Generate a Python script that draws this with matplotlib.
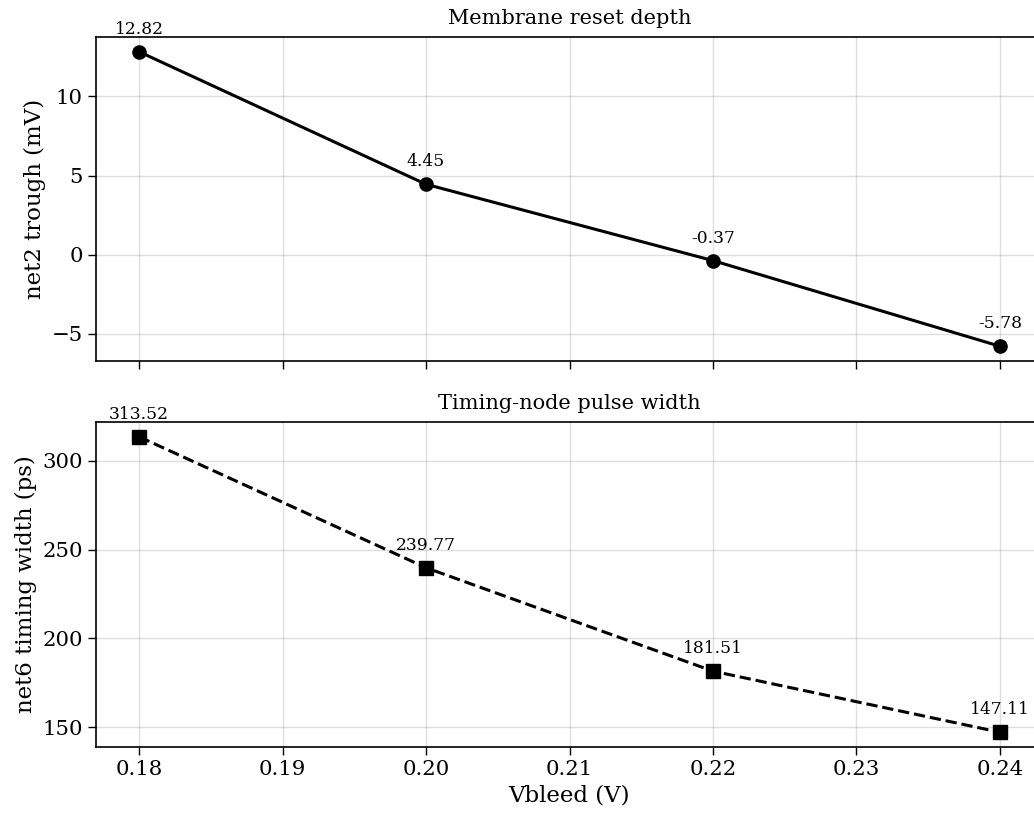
import matplotlib
matplotlib.use("Agg")
import matplotlib.pyplot as plt
from matplotlib.ticker import MultipleLocator

plt.rcParams['font.family'] = ['DejaVu Serif']

vbleed = [0.18, 0.20, 0.22, 0.24]
trough_mv = [12.82, 4.45, -0.37, -5.78]
width_ps = [313.52, 239.77, 181.51, 147.11]

fig = plt.figure(figsize=(10.34, 8.15), dpi=100)
W, H = 1034.0, 815.0
ax1 = fig.add_axes([96/W, 1 - 361/H, 947/W, 324/H])
ax2 = fig.add_axes([96/W, 1 - 747/H, 947/W, 325/H], sharex=ax1)

def panel(ax, y, marker, ls, title, ylabel):
    ax.plot(vbleed, y, color='black', lw=2.2, ls=ls, marker=marker, ms=9.5)
    for xv, yv in zip(vbleed, y):
        ax.annotate(f"{yv:.2f}", (xv, yv), textcoords='offset points',
                    xytext=(0, 13), ha='center', fontsize=12.3)
    ax.set_title(title, fontsize=15, pad=9.5)
    ax.set_ylabel(ylabel, fontsize=16.5)
    ax.grid(True, color='gray', alpha=0.25, lw=1)
    ax.tick_params(labelsize=15.3, length=6, width=1)
    for s in ax.spines.values():
        s.set_linewidth(1.2)

panel(ax1, trough_mv, 'o', '-', 'Membrane reset depth', 'net2 trough (mV)')
panel(ax2, width_ps, 's', '--', 'Timing-node pulse width', 'net6 timing width (ps)')
ax1.tick_params(labelbottom=False)
ax2.yaxis.set_major_locator(MultipleLocator(50))
ax2.set_xlabel('Vbleed (V)', fontsize=16.5)
ax2.set_xticks([0.18, 0.19, 0.20, 0.21, 0.22, 0.23, 0.24])

fig.savefig('out.png', dpi=100)
